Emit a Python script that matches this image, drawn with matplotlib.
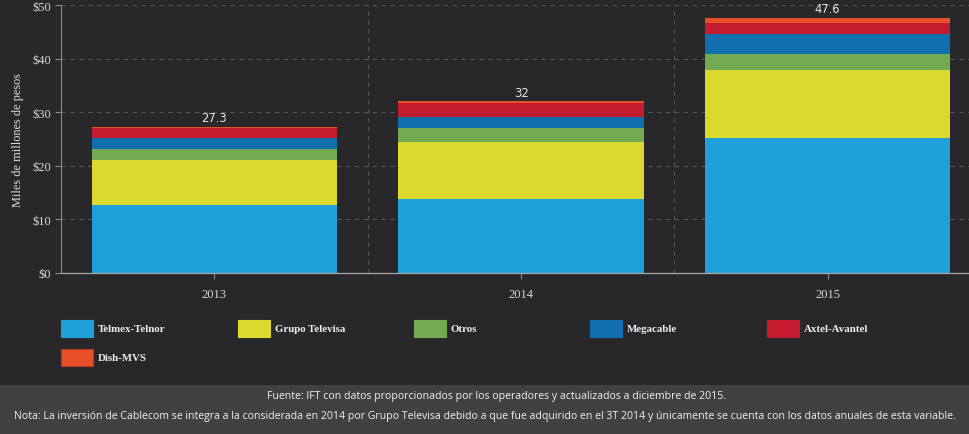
import matplotlib
matplotlib.use("Agg")
import matplotlib.pyplot as plt
from matplotlib.patches import Rectangle
from matplotlib.ticker import FuncFormatter, FixedLocator
import numpy as np

years = ["2013", "2014", "2015"]
series = ["Telmex-Telnor", "Grupo Televisa", "Otros", "Megacable", "Axtel-Avantel", "Dish-MVS"]
telmex = [12.7, 13.8, 25.1]
televisa = [8.4, 10.65, 12.8]
otros = [2.05, 2.6, 3.0]
megacable = [1.95, 2.1, 3.75]
axtel = [1.9, 2.5, 2.0]
dish = [0.3, 0.35, 0.95]
values = [telmex, televisa, otros, megacable, axtel, dish]
colors = ["#1fa0d8", "#dbd92e", "#72ab52", "#1070ad", "#c21c2e", "#e8502a"]
edge_colors = ["#1fa0d8", "#dbd92e", "#72ab52", "#1070ad", "#c21c2e", "#b53c22"]
yticks = [0, 10, 20, 30, 40, 50]
ylabel = "Miles de millones de pesos"
fuente = "Fuente: IFT con datos proporcionados por los operadores y actualizados a diciembre de 2015."
nota = ("Nota: La inversión de Cablecom se integra a la considerada en 2014 por Grupo Televisa debido a que fue "
        "adquirido en el 3T 2014 y únicamente se cuenta con los datos anuales de esta variable.")

BG = "#28282b"
W, H = 970, 435
fig = plt.figure(figsize=(W / 100, H / 100), dpi=100, facecolor=BG)

def fx(px):
    return px / W

def fy(py):
    return 1 - py / H

# footer band
fig.add_artist(Rectangle((0, 0), 1, fy(386), transform=fig.transFigure,
                         facecolor="#414143", edgecolor="none", zorder=0))

ax = fig.add_axes([fx(61), fy(274), fx(920), fy(6) - fy(274)])
ax.set_facecolor(BG)
x = np.arange(len(years))
bottom = np.zeros(len(years))
for vals, c, ec in zip(values, colors, edge_colors):
    v = np.array(vals)
    ax.bar(x, v, width=0.8, bottom=bottom, color=c, edgecolor="none", zorder=3)
    bottom = bottom + v

for xi, tot in zip(x, bottom):
    t = round(tot, 1)
    lab = f"{t:g}"
    ax.text(xi, tot + 0.45, lab, ha="center", va="bottom", color="#e6e6e6",
            fontsize=8.3, family="DejaVu Sans", zorder=4)

ax.set_xlim(-0.5, len(years) - 0.5)
ax.set_ylim(0, 50)
ax.yaxis.set_major_locator(FixedLocator(yticks))
ax.yaxis.set_major_formatter(FuncFormatter(lambda v, p: f"${v:g}"))
ax.set_xticks(x)
ax.set_xticklabels(years)
ax.set_xticks([0.5, 1.5], minor=True)

ax.grid(axis="y", which="major", color="#555558", linestyle=(0, (4, 4)), linewidth=0.8, zorder=1)
ax.grid(axis="x", which="minor", color="#555558", linestyle=(0, (4, 4)), linewidth=0.8, zorder=1)

for s in ["top", "right"]:
    ax.spines[s].set_visible(False)
ax.spines["left"].set_color("#8a8a8a")
ax.spines["bottom"].set_color("#a8a8a8")
ax.spines["left"].set_linewidth(0.8)
ax.spines["bottom"].set_linewidth(0.9)
ax.spines["left"].set_zorder(5)
ax.spines["bottom"].set_zorder(5)

ax.tick_params(axis="y", which="major", length=4, width=0.8, color="#8a8a8a", pad=3,
               labelcolor="#d8d8d8", labelsize=9)
ax.tick_params(axis="x", which="major", length=4, width=0.8, color="#8a8a8a", pad=7,
               labelcolor="#d8d8d8", labelsize=9)
ax.tick_params(axis="x", which="minor", length=0)
for lab in ax.get_xticklabels() + ax.get_yticklabels():
    lab.set_family("Liberation Serif")

ax.set_ylabel(ylabel, family="Liberation Serif", fontsize=8.8, color="#e0e0e0", labelpad=6)

# legend (manual)
col_x = [61, 238, 414, 590, 767]
row_y = [329.5, 358.5]
for i, (name, c, ec) in enumerate(zip(series, colors, edge_colors)):
    r, col = divmod(i, 5)
    left = col_x[col]
    cy = row_y[r]
    fig.add_artist(Rectangle((fx(left), fy(cy + 8.5)), fx(32), fy(cy - 8.5) - fy(cy + 8.5),
                             transform=fig.transFigure, facecolor=c, edgecolor=ec, linewidth=0.8))
    fig.text(fx(left + 37), fy(cy), name, ha="left", va="center", color="#eeeeee",
             fontsize=7.8, fontweight="bold", family="Liberation Serif")

fig.text(fx(497), fy(396.5), fuente, ha="center", va="center", color="#f0f0f0",
         fontsize=7.6, family="Open Sans")
fig.text(fx(14), fy(416.5), nota, ha="left", va="center", color="#f0f0f0",
         fontsize=7.6, family="Open Sans")

fig.savefig("out.png", dpi=100, facecolor=BG)
